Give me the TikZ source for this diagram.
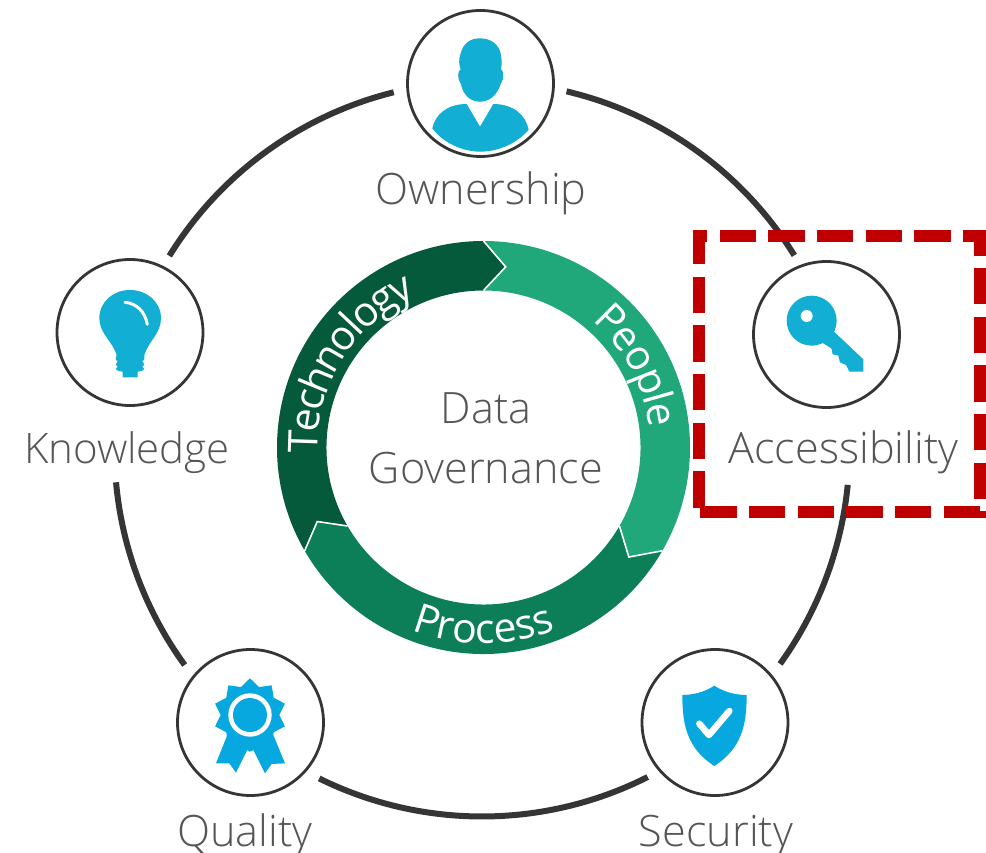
\documentclass[tikz,border=0pt]{standalone}
\usepackage{fontspec}
\usetikzlibrary{calc,shapes.geometric,decorations.text}
\setmainfont{Open Sans Light}
\newfontfamily\ringface{Open Sans}
\definecolor{techgreen}{HTML}{045A3A}
\definecolor{peoplegreen}{HTML}{21A87A}
\definecolor{procgreen}{HTML}{0C7E58}
\definecolor{iconblue}{HTML}{12AED4}
\definecolor{iconsky}{HTML}{07A8DF}
\definecolor{ringdark}{HTML}{353535}
\definecolor{labelgrey}{HTML}{555555}
\definecolor{boxred}{HTML}{C00000}
\newcommand{\ringfont}{\ringface\fontsize{41}{41}\selectfont\color{white}}
\tikzset{
  pillar/.style={circle,draw=ringdark,line width=2.8pt,fill=white,minimum size=146pt,inner sep=0pt},
  linkarc/.style={draw=ringdark,line width=6pt},
  caption/.style={text=labelgrey,font=\fontsize{43.2}{43.2}\selectfont,anchor=base,inner sep=0pt},
  chevron/.style={draw=white,line width=1.6pt,line join=miter},
  ringtext/.style n args={2}{decorate,decoration={text along path,text align=center,raise=#2,text={#1}}},
  zoomed/.style={x=0.33333pt,y=-0.33333pt}
}
\begin{document}
\begin{tikzpicture}[x=1pt,y=-1pt]
\useasboundingbox (0,0) rectangle (986,853);
\coordinate (hub) at (483.5,447.5);
\coordinate (orbit) at (482,449);
% connectors of the outer ring
\coordinate (a1) at ($(orbit)+(76.7:367.5pt)$);
\coordinate (a2) at ($(orbit)+(-5.6:367.5pt)$);
\coordinate (a3) at ($(orbit)+(-63.2:367.5pt)$);
\coordinate (a4) at ($(orbit)+(216:367.5pt)$);
\coordinate (a5) at ($(orbit)+(148.3:367.5pt)$);
\draw[linkarc] (a1) arc[start angle=76.7,end angle=31.8,radius=367.5pt];
\draw[linkarc] (a2) arc[start angle=-5.6,end angle=-35.8,radius=367.5pt];
\draw[linkarc] (a3) arc[start angle=-63.2,end angle=-116.3,radius=367.5pt];
\draw[linkarc] (a4) arc[start angle=216,end angle=185.2,radius=367.5pt];
\draw[linkarc] (a5) arc[start angle=148.3,end angle=103.9,radius=367.5pt];
% nodes
\node[pillar] (own) at (480.5,83.5) {};
\node[pillar] (acc) at (826.5,334.5) {};
\node[pillar] (kno) at (130,332.5) {};
\node[pillar] (qua) at (250.5,722.5) {};
\node[pillar] (sec) at (715,722.5) {};
% central ring
\fill[techgreen] ($(hub)+(90:206.5pt)$) arc[start angle=90,end angle=210,radius=206.5pt]
  -- ($(hub)+(204:182pt)$) -- ($(hub)+(210:157pt)$) arc[start angle=210,end angle=90,radius=157pt]
  -- ($(hub)+(83:182pt)$) -- cycle;
\fill[peoplegreen] ($(hub)+(90:206.5pt)$) arc[start angle=90,end angle=-30,radius=206.5pt]
  -- ($(hub)+(-37:182pt)$) -- ($(hub)+(-30:157pt)$) arc[start angle=-30,end angle=90,radius=157pt]
  -- ($(hub)+(83:182pt)$) -- cycle;
\fill[procgreen] ($(hub)+(-30:206.5pt)$) arc[start angle=-30,end angle=-150,radius=206.5pt]
  -- ($(hub)+(204:182pt)$) -- ($(hub)+(210:157pt)$) arc[start angle=210,end angle=330,radius=157pt]
  -- ($(hub)+(-37:182pt)$) -- cycle;
\draw[chevron] ($(hub)+(90:206.5pt)$) -- ($(hub)+(83:182pt)$) -- ($(hub)+(90:157pt)$);
\draw[chevron] ($(hub)+(-30:206.5pt)$) -- ($(hub)+(-37:182pt)$) -- ($(hub)+(-30:157pt)$);
\draw[chevron] ($(hub)+(210:206.5pt)$) -- ($(hub)+(204:182pt)$) -- ($(hub)+(210:157pt)$);
\coordinate (t1) at ($(hub)+(210:186pt)$);
\coordinate (t2) at ($(hub)+(60:176pt)$);
\coordinate (t3) at ($(hub)+(-130:196pt)$);
\path[ringtext={|\ringfont|Technology}{-20pt}] (t1) arc[start angle=210,end angle=86,radius=186pt];
\path[ringtext={|\ringfont|People}{-9pt}] (t2) arc[start angle=60,end angle=-4,radius=176pt];
\path[ringtext={|\ringfont|Process}{0pt}] (t3) arc[start angle=-130,end angle=-50,radius=196pt];
% labels
\node[caption] (lown) at (481,205) {Ownership};
\node[caption] (lacc) at (843.5,463) {Accessibility};
\node[caption,font=\fontsize{42}{42}\selectfont] (lkno) at (127,463) {Knowledge};
\node[caption] (lqua) at (245,846) {Quality};
\node[caption] (lsec) at (716,846) {Security};
\node[caption] (ldata) at (486,423) {Data};
\node[caption] (lgov) at (486,483) {Governance};
% person icon
\begin{scope}[shift={(400,0)},zoomed]
\fill[iconblue] (240,115) .. controls (275,115) and (298,135) .. (303,165)
  .. controls (306,185) and (305,200) .. (303,208)
  .. controls (312,210) and (312,240) .. (303,250)
  .. controls (290,290) and (265,305) .. (240,305)
  .. controls (215,305) and (190,290) .. (182,250)
  .. controls (172,240) and (172,210) .. (182,208)
  .. controls (177,195) and (175,180) .. (182,160)
  .. controls (190,130) and (210,115) .. (240,115) -- cycle;
\fill[iconblue] (97,385) .. controls (105,345) and (140,312) .. (200,312) -- (240,380) -- (280,312)
  .. controls (340,312) and (378,345) .. (386,390)
  .. controls (345,435) and (290,455) .. (240,455)
  .. controls (190,455) and (130,430) .. (97,385) -- cycle;
\end{scope}
% key icon
\begin{scope}[shift={(690,225)},zoomed]
\fill[iconblue] (365,287) circle[radius=25pt];
\fill[iconblue] (430,318) -- (520,403) -- (520,440) -- (478,440) -- (468,420) -- (450,412) -- (445,392) -- (428,388) -- (424,370) -- (395,352) -- cycle;
\fill[white] (350,273) circle[radius=6pt];
\end{scope}
% bulb icon
\begin{scope}[shift={(50,255)},zoomed]
\fill[iconblue] (240,105) .. controls (290,105) and (333,140) .. (333,190)
  .. controls (333,235) and (295,260) .. (283,300)
  -- (283,312) -- (277,320) -- (283,328) -- (277,335) -- (283,342) -- (275,348) -- (263,350) -- (263,367) -- (218,367) -- (218,350) -- (205,348) -- (197,342) -- (203,335) -- (197,328) -- (203,320) -- (197,312) -- (200,300)
  .. controls (188,260) and (148,235) .. (148,190)
  .. controls (148,140) and (190,105) .. (240,105) -- cycle;
\draw[white,line width=3pt,line cap=round] (225,142) .. controls (260,145) and (285,170) .. (292,208);
\end{scope}
% rosette icon
\begin{scope}[shift={(170,645)},zoomed]
\fill[iconsky] (172,270) -- (138,355) -- (178,355) -- (198,383) -- (232,315) -- (240,320) -- (250,315) -- (285,385) -- (305,357) -- (345,355) -- (310,270) -- cycle;
\node[star,star points=10,star point ratio=1.25,minimum size=73.4pt,inner sep=0pt,fill=iconsky] (rosette) at (240,210) {};
\fill[white] (rosette.center) circle[radius=21.7pt];
\fill[iconsky] (rosette.center) circle[radius=17pt];
\end{scope}
% shield icon
\begin{scope}[shift={(635,645)},zoomed]
\fill[iconsky] (238,122) .. controls (265,140) and (300,150) .. (335,150)
  .. controls (335,240) and (320,310) .. (238,363)
  .. controls (156,310) and (142,240) .. (142,150)
  .. controls (176,150) and (211,140) .. (238,122) -- cycle;
\draw[white,line width=6.5pt,line cap=round,line join=round] (193,236) -- (222,270) -- (283,198);
\end{scope}
% dashed highlight box
\coordinate (b0) at (699.3,507.7);
\coordinate (b1) at (699.3,236);
\coordinate (b2) at (979.7,236);
\coordinate (b3) at (979.7,511.7);
\coordinate (b4) at (699.6,511.7);
\draw[boxred,line width=11.7pt,dash pattern=on 36.5pt off 12.17pt,line join=miter] (b0) -- (b1) -- (b2) -- (b3) -- (b4);
\end{tikzpicture}
\end{document}
